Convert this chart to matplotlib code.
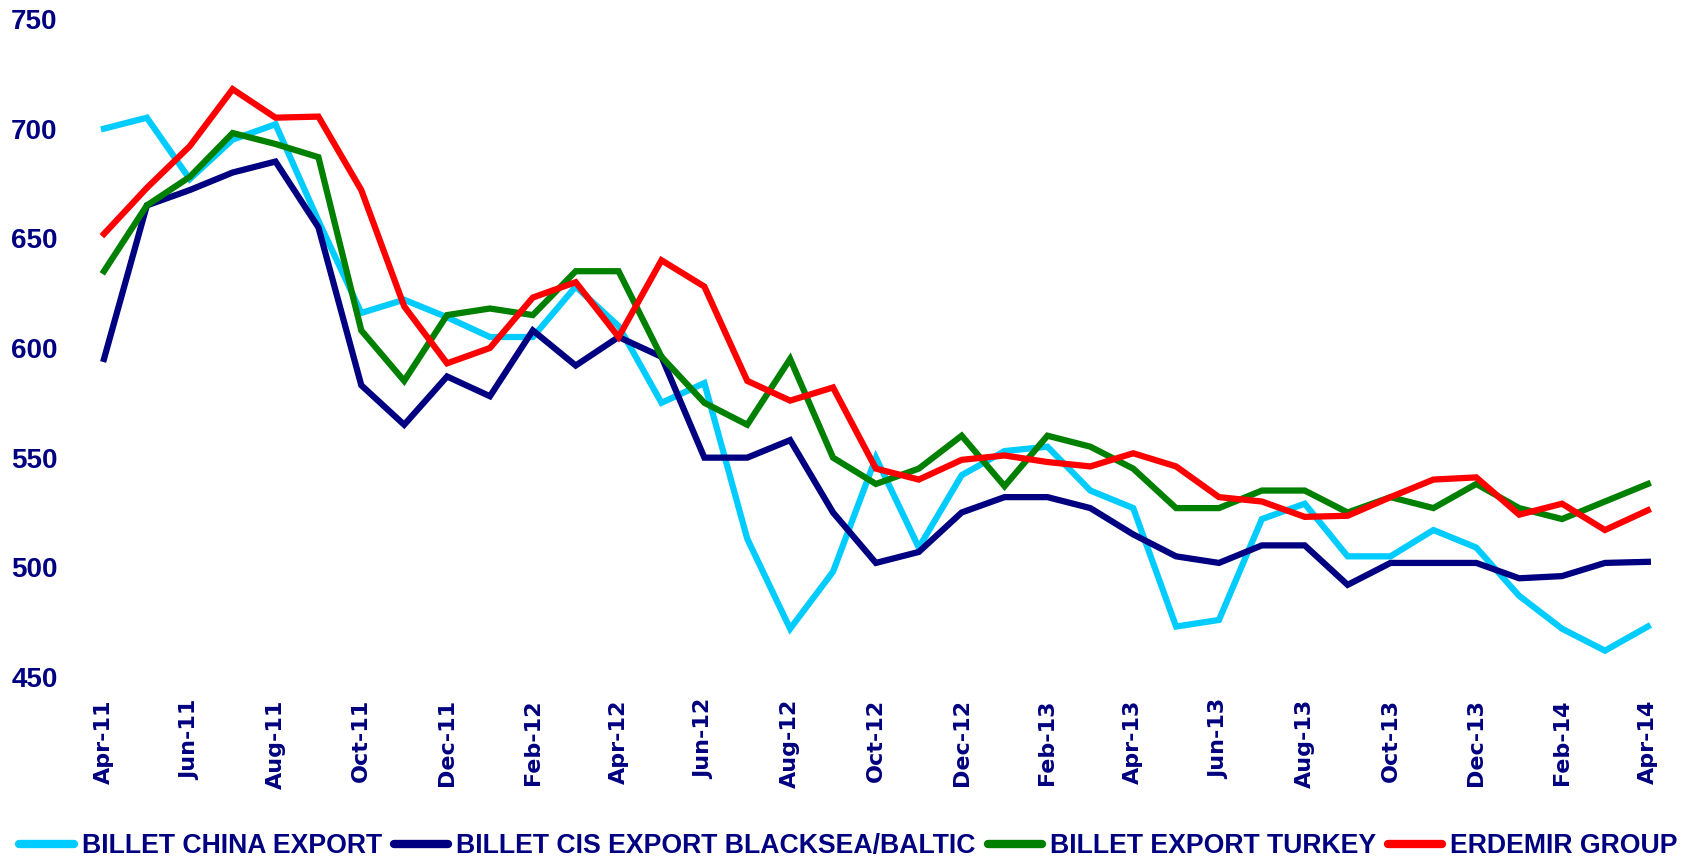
import matplotlib
matplotlib.use("Agg")
from matplotlib import pyplot as plt

months = ["Apr-11", "May-11", "Jun-11", "Jul-11", "Aug-11", "Sep-11", "Oct-11", "Nov-11", "Dec-11",
          "Jan-12", "Feb-12", "Mar-12", "Apr-12", "May-12", "Jun-12", "Jul-12", "Aug-12", "Sep-12",
          "Oct-12", "Nov-12", "Dec-12", "Jan-13", "Feb-13", "Mar-13", "Apr-13", "May-13", "Jun-13",
          "Jul-13", "Aug-13", "Sep-13", "Oct-13", "Nov-13", "Dec-13", "Jan-14", "Feb-14", "Mar-14",
          "Apr-14"]

china = [700, 705, 677, 695, 702, 658, 616, 622, 614, 605, 605, 628, 610, 575, 584, 513, 472, 498,
         550, 509, 542, 553, 555, 535, 527, 473, 476, 522, 529, 505, 505, 517, 509, 487, 472, 462, 473]
cis = [595, 665, 672, 680, 685, 655, 583, 565, 587, 578, 608, 592, 605, 596, 550, 550, 558, 525,
       502, 507, 525, 532, 532, 527, 515, 505, 502, 510, 510, 492, 502, 502, 502, 495, 496, 502, 502.5]
turkey = [635, 665, 678, 698, 693, 687, 608, 585, 615, 618, 615, 635, 635, 596, 575, 565, 595, 550,
          538, 545, 560, 537, 560, 555, 545, 527, 527, 535, 535, 525, 532, 527, 538, 527, 522, 530, 538]
erdemir = [652, 673, 692, 718, 705, 705.5, 672, 619, 593, 600, 623, 630, 605, 640, 628, 585, 576, 582,
           545, 540, 549, 551, 548, 546, 552, 546, 532, 530, 523, 523.5, 532, 540, 541, 524, 529, 517, 526]

names = ["BILLET CHINA EXPORT", "BILLET CIS EXPORT BLACKSEA/BALTIC", "BILLET EXPORT TURKEY", "ERDEMIR GROUP"]
colors = ["#00CCFF", "#000080", "#008000", "#FF0000"]
navy = "#000080"

fig = plt.figure(figsize=(16.88, 8.59), dpi=100)
ax = fig.add_axes([0.0489, 0.2119, 0.940, 0.766])

x = list(range(len(months)))
for s, c, n in zip([china, cis, turkey, erdemir], colors, names):
    ax.plot(x, s, color=c, lw=4.5, label=n, solid_joinstyle="miter", clip_on=False)

ax.set_xlim(-0.5, 36.5)
ax.set_ylim(450, 750)
ax.set_yticks(range(450, 751, 50))
ax.set_xticks(x[::2])
ax.set_xticklabels(months[::2], rotation=90, ha="center", va="top",
                   fontsize=16, fontweight="bold", color=navy, family="DejaVu Sans")
for lab in ax.get_yticklabels():
    lab.set_fontfamily("Liberation Sans")
    lab.set_fontsize(20)
    lab.set_fontweight("bold")
    lab.set_color(navy)
ax.tick_params(axis="y", length=0, pad=18)
ax.tick_params(axis="x", length=0, pad=16)
for sp in ax.spines.values():
    sp.set_visible(False)

# legend along the bottom edge
leg = fig.legend(loc="center", bbox_to_anchor=(0.5027, 0.0148), ncol=4, frameon=False,
                 handlelength=2.04, handletextpad=0.3, columnspacing=0.45, borderpad=0,
                 prop={"family": "Liberation Sans", "weight": "bold", "size": 19.2})
for t in leg.get_texts():
    t.set_color(navy)
for h in leg.get_lines():
    h.set_linewidth(6)
    h.set_solid_capstyle("round")

fig.savefig("out.png", dpi=100)
